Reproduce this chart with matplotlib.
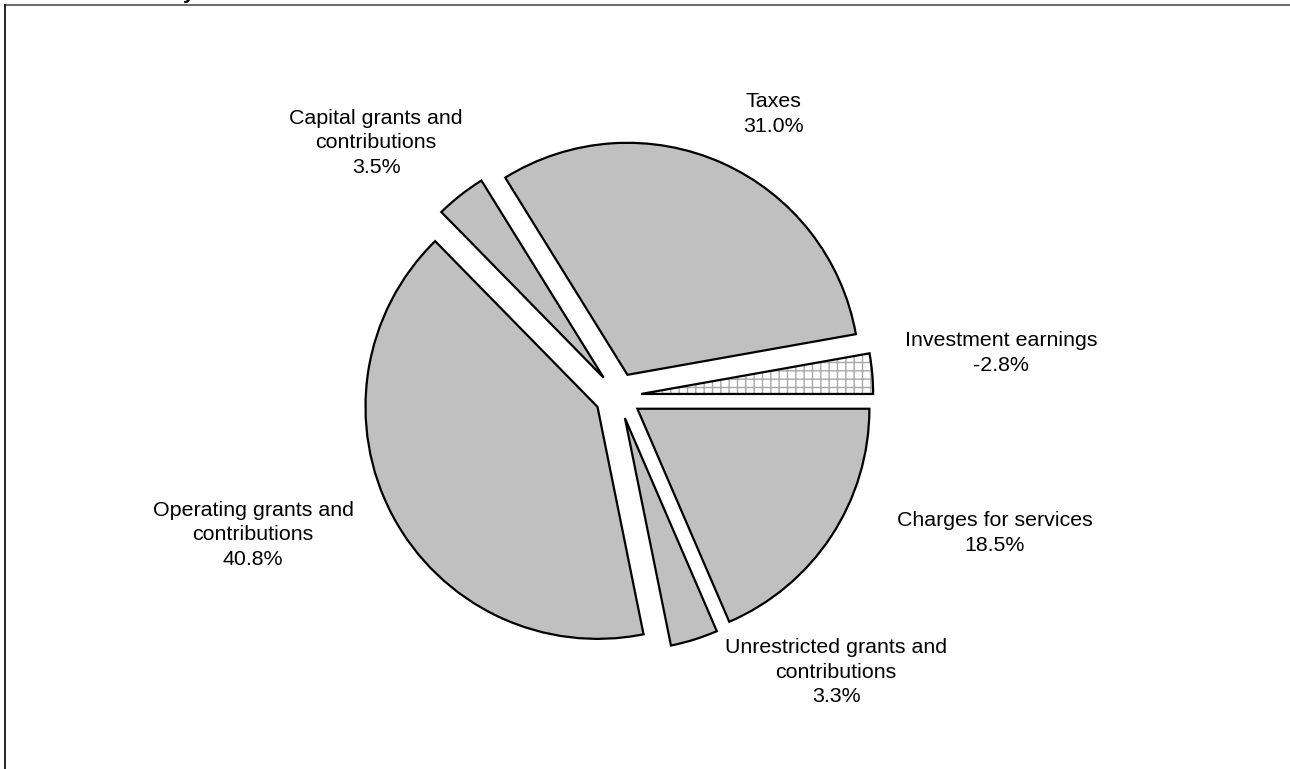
import matplotlib
matplotlib.use("Agg")
import matplotlib.pyplot as plt
from matplotlib.patches import Wedge
from matplotlib.lines import Line2D

plt.rcParams['font.family'] = ['Liberation Sans', 'DejaVu Sans']
plt.rcParams['hatch.linewidth'] = 1.0

# ---- data ----
categories = ["Investment earnings",
              "Taxes",
              "Capital grants and\ncontributions",
              "Operating grants and\ncontributions",
              "Unrestricted grants and\ncontributions",
              "Charges for services"]
percent = [-2.8, 31.0, 3.5, 40.8, 3.3, 18.5]

# ---- layout (label centres, in pie-radius units from pie centre) ----
label_pos = [(1.650, 0.185), (0.668, 1.216), (-1.043, 1.091),
             (-1.573, -0.599), (0.940, -1.190), (1.625, -0.591)]

W, H, DPI = 1290, 769, 100
R_PX = 232.0
CX, CY = 618.0, 396.0

fig = plt.figure(figsize=(W / DPI, H / DPI), dpi=DPI)
ax = fig.add_axes([0, 0, 1, 1])

sizes = [abs(v) for v in percent]
wedges, _ = ax.pie(sizes, startangle=0, counterclock=True,
                   explode=[0.1] * len(sizes), radius=1.0,
                   colors=['#C0C0C0'] * len(sizes),
                   wedgeprops=dict(edgecolor='black', linewidth=1.6,
                                   joinstyle='miter'))

# negative value: hatched slice
for w, v in zip(wedges, percent):
    if v < 0:
        w.set_facecolor('white')
        w.set_edgecolor('#A8A8A8')
        w.set_hatch('++')
        w.set_linewidth(0)
        outline = Wedge(w.center, w.r, w.theta1, w.theta2, fill=False,
                        edgecolor='black', linewidth=1.6, joinstyle='miter')
        ax.add_patch(outline)

for name, v, (lx, ly) in zip(categories, percent, label_pos):
    ax.text(lx, ly, f"{name}\n{v:.1f}%", ha='center', va='center',
            fontsize=15.4, linespacing=1.36, color='black')

ax.set_xlim(-CX / R_PX, (W - CX) / R_PX)
ax.set_ylim(-(H - CY) / R_PX, CY / R_PX)
ax.set_aspect('equal')
ax.axis('off')

# outer frame pieces (cropped chart border)
fig.add_artist(Line2D([5 / W, 1.0], [1 - 5 / H, 1 - 5 / H],
                      transform=fig.transFigure, color='#707070', lw=1.5))
fig.add_artist(Line2D([5 / W, 5 / W], [1 - 5 / H, 0.0],
                      transform=fig.transFigure, color='black', lw=1.2))
# cut-off title descender at the top edge
fig.text(183 / W, 1 + 1.5 / H, "y", fontsize=15, fontweight='bold',
         ha='left', va='baseline')

fig.savefig("out.png", dpi=DPI)
